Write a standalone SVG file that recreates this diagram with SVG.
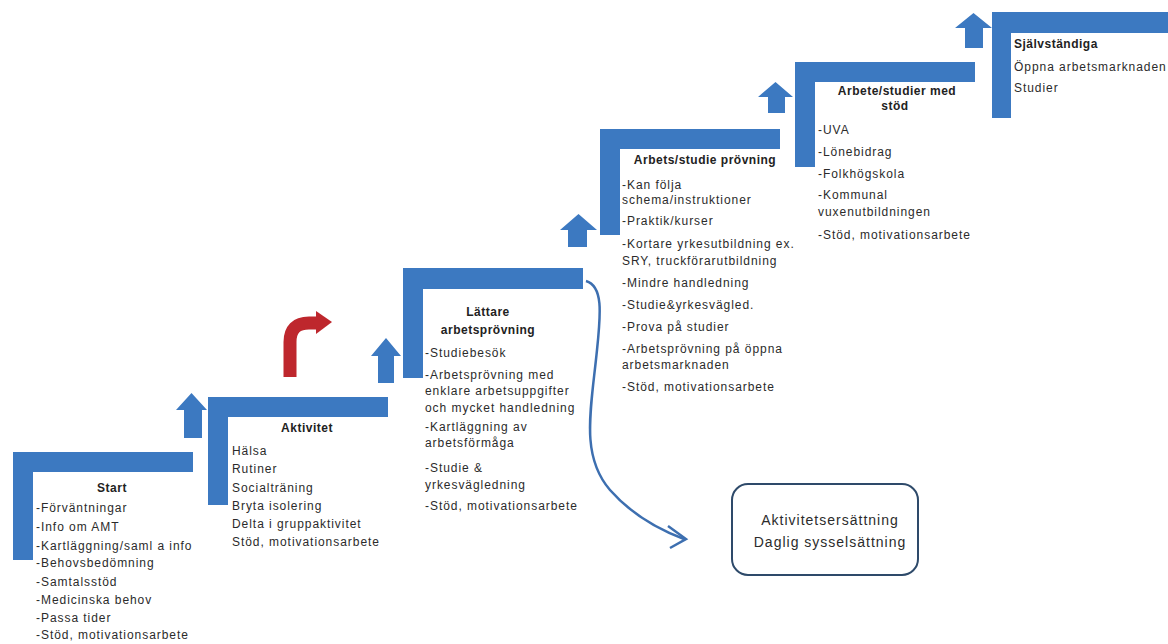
<svg xmlns="http://www.w3.org/2000/svg" width="1168" height="644" viewBox="0 0 1168 644">
<style>
.step{fill:#3c79c1}
.up{fill:#3c79c1}
.t{font-family:"Liberation Sans",Arial,sans-serif;font-size:12px;fill:#2b2b2b;letter-spacing:0.95px}
.h{font-family:"Liberation Sans",Arial,sans-serif;font-size:12px;font-weight:bold;fill:#222;letter-spacing:0.5px}
.c{text-anchor:middle}
.bx{font-family:"Liberation Sans",Arial,sans-serif;font-size:14px;fill:#2b2b2b;text-anchor:middle;letter-spacing:1px}
</style>
<rect width="1168" height="644" fill="#ffffff"/>

<g id="connectors">
<polygon class="up" points="184,438 184,410 176,410 191.5,393 207,410 202,410 202,438"/>
<polygon class="up" points="378,383 378,356 371,356 386,338 401,356 394,356 394,383"/>
<polygon class="up" points="568,247 568,230 560,230 578.5,214 597,230 587,230 587,247"/>
<polygon class="up" points="768,113 768,97 758,97 775.5,82 793,97 785,97 785,113"/>
<polygon class="up" points="965,48 965,28 955,28 973.5,13 992,28 983,28 983,48"/>
<path d="M290 377 V342 Q290 323 309 323 H318" fill="none" stroke="#be272d" stroke-width="13"/>
<polygon points="316,311 332,322 316,334" fill="#be272d"/>
<path d="M586 281 C603 286 601 312 597 350 C591 410 580 455 610 490 C632 515 660 530 684 539" fill="none" stroke="#3d6fb0" stroke-width="2.5"/>
<path d="M668 526 L686 539 L670 548" fill="none" stroke="#3d6fb0" stroke-width="2.5"/>
</g>

<g id="step-start">
<path class="step" d="M13 452 H193 V472 H33 V560 H13 Z"/>
<text class="h c" x="112" y="492">Start</text>
<text class="t" x="36" y="512">-Förväntningar</text>
<text class="t" x="36" y="531">-Info om AMT</text>
<text class="t" x="36" y="550">-Kartläggning/saml a info</text>
<text class="t" x="36" y="567">-Behovsbedömning</text>
<text class="t" x="36" y="586">-Samtalsstöd</text>
<text class="t" x="36" y="604">-Medicinska behov</text>
<text class="t" x="36" y="622">-Passa tider</text>
<text class="t" x="36" y="639">-Stöd, motivationsarbete</text>
</g>

<g id="step-aktivitet">
<path class="step" d="M208 397 H388 V417 H228 V505 H208 Z"/>
<text class="h c" x="307" y="432">Aktivitet</text>
<text class="t" x="232" y="455">Hälsa</text>
<text class="t" x="232" y="473">Rutiner</text>
<text class="t" x="232" y="492">Socialträning</text>
<text class="t" x="232" y="510">Bryta isolering</text>
<text class="t" x="232" y="528">Delta i gruppaktivitet</text>
<text class="t" x="232" y="546">Stöd, motivationsarbete</text>
</g>

<g id="step-lattare">
<path class="step" d="M403 268 H583 V289 H423 V378 H403 Z"/>
<text class="h c" x="488" y="316">Lättare</text>
<text class="h c" x="488" y="334">arbetsprövning</text>
<text class="t" x="425" y="357">-Studiebesök</text>
<text class="t" x="425" y="379">-Arbetsprövning med</text>
<text class="t" x="425" y="395">enklare arbetsuppgifter</text>
<text class="t" x="425" y="412">och  mycket handledning</text>
<text class="t" x="425" y="431">-Kartläggning av</text>
<text class="t" x="425" y="447">arbetsförmåga</text>
<text class="t" x="425" y="472">-Studie &amp;</text>
<text class="t" x="425" y="489">yrkesvägledning</text>
<text class="t" x="425" y="510">-Stöd, motivationsarbete</text>
</g>

<g id="step-arbets-studie">
<path class="step" d="M600 129 H780 V149 H620 V235 H600 Z"/>
<text class="h c" x="705" y="164">Arbets/studie prövning</text>
<text class="t" x="622" y="189">-Kan följa</text>
<text class="t" x="622" y="204">schema/instruktioner</text>
<text class="t" x="622" y="225">-Praktik/kurser</text>
<text class="t" x="622" y="248">-Kortare yrkesutbildning ex.</text>
<text class="t" x="622" y="265">SRY, truckförarutbildning</text>
<text class="t" x="622" y="287">-Mindre handledning</text>
<text class="t" x="622" y="309">-Studie&amp;yrkesvägled.</text>
<text class="t" x="622" y="331">-Prova på studier</text>
<text class="t" x="622" y="353">-Arbetsprövning på öppna</text>
<text class="t" x="622" y="369">arbetsmarknaden</text>
<text class="t" x="622" y="391">-Stöd, motivationsarbete</text>
</g>

<g id="step-arbete-stod">
<path class="step" d="M795 62 H975 V82 H815 V167 H795 Z"/>
<text class="h c" x="897" y="95">Arbete/studier med</text>
<text class="h c" x="895" y="110">stöd</text>
<text class="t" x="818" y="134">-UVA</text>
<text class="t" x="818" y="156">-Lönebidrag</text>
<text class="t" x="818" y="178">-Folkhögskola</text>
<text class="t" x="818" y="199">-Kommunal</text>
<text class="t" x="818" y="216">vuxenutbildningen</text>
<text class="t" x="818" y="239">-Stöd, motivationsarbete</text>
</g>

<g id="step-sjalvstandiga">
<path class="step" d="M992 12 H1168 V33 H1011 V118 H992 Z"/>
<text class="h" x="1014" y="48">Självständiga</text>
<text class="t" x="1014" y="71">Öppna arbetsmarknaden</text>
<text class="t" x="1014" y="92">Studier</text>
</g>

<g id="box-aktivitetsersattning">
<rect x="732" y="484" width="186" height="91" rx="16" ry="16" fill="#ffffff" stroke="#2e4a6a" stroke-width="2"/>
<text class="bx" x="830" y="525">Aktivitetsersättning</text>
<text class="bx" x="830" y="547">Daglig sysselsättning</text>
</g>
</svg>
